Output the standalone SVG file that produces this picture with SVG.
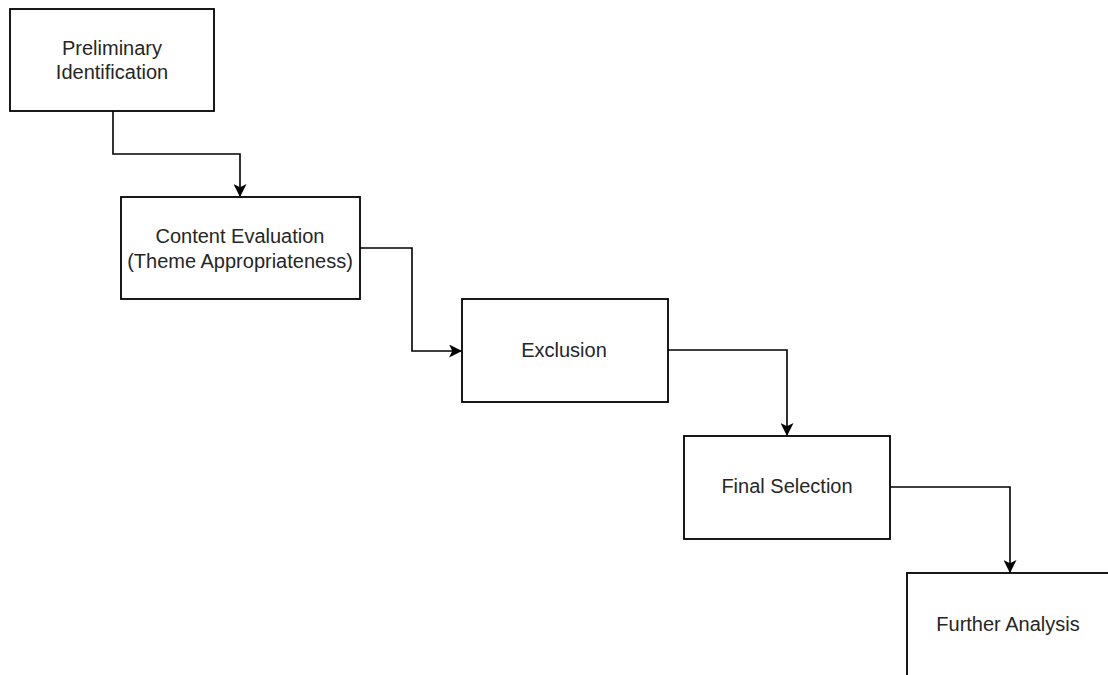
<svg xmlns="http://www.w3.org/2000/svg" width="1108" height="675" viewBox="0 0 1108 675">
<style>
.box{fill:#fff;stroke:#000;stroke-width:1.8}
.lbl{font-family:"Liberation Sans",Arial,sans-serif;font-size:20px;fill:#262626;text-anchor:middle}
.edge{fill:none;stroke:#000;stroke-width:1.6}
</style>
<defs>
<marker id="arr" viewBox="0 0 12 12" refX="11" refY="6" markerWidth="13" markerHeight="13" markerUnits="userSpaceOnUse" orient="auto">
<path d="M0,0 L12,6 L0,12 L3,6 Z" fill="#000"/>
</marker>
</defs>
<rect width="1108" height="675" fill="#fff"/>
<g id="connectors">
<path class="edge" d="M113,111 V154 H240 V196" marker-end="url(#arr)"/>
<path class="edge" d="M360,248 H412 V351 H461" marker-end="url(#arr)"/>
<path class="edge" d="M668,350 H787 V435" marker-end="url(#arr)"/>
<path class="edge" d="M890,487 H1010 V572" marker-end="url(#arr)"/>
</g>
<g id="n1">
<rect class="box" x="10" y="9" width="204" height="102"/>
<text class="lbl" x="112" y="55">Preliminary</text>
<text class="lbl" x="112" y="79">Identification</text>
</g>
<g id="n2">
<rect class="box" x="121" y="197" width="239" height="102"/>
<text class="lbl" x="240" y="243">Content Evaluation</text>
<text class="lbl" x="240" y="268">(Theme Appropriateness)</text>
</g>
<g id="n3">
<rect class="box" x="462" y="299" width="206" height="103"/>
<text class="lbl" x="564" y="357">Exclusion</text>
</g>
<g id="n4">
<rect class="box" x="684" y="436" width="206" height="103"/>
<text class="lbl" x="787" y="493">Final Selection</text>
</g>
<g id="n5">
<rect class="box" x="907" y="573" width="206" height="110"/>
<text class="lbl" x="1008" y="631">Further Analysis</text>
</g>
</svg>
